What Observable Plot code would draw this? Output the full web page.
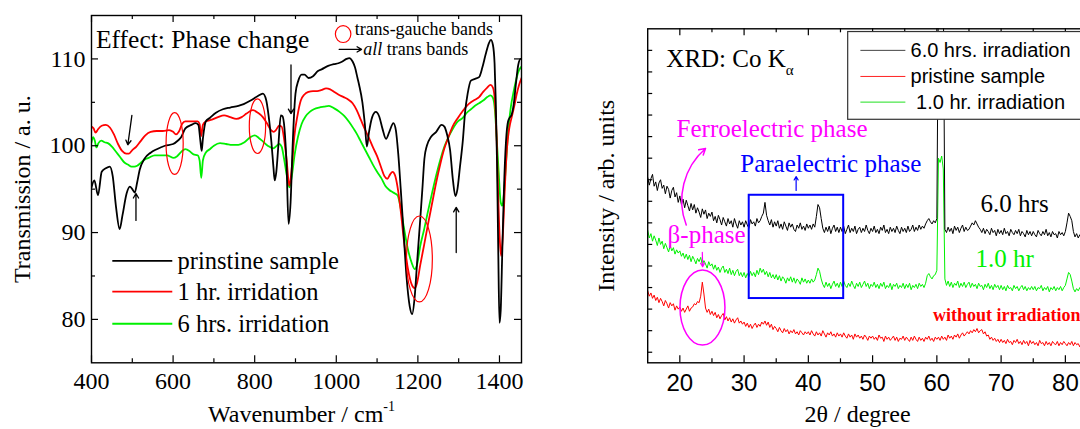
<!DOCTYPE html>
<html><head><meta charset="utf-8">
<script src="https://cdn.jsdelivr.net/npm/d3@7"></script>
<script src="https://cdn.jsdelivr.net/npm/@observablehq/plot@0.6"></script>
<style>
html,body{margin:0;padding:0;background:#fff;overflow:hidden;}
#wrap{position:relative;width:1080px;height:429px;overflow:hidden;background:#fff;}
#left{position:absolute;left:0;top:0;width:540px;height:429px;}
#right{position:absolute;left:560px;top:0;width:557px;height:429px;}
#wrap svg{max-width:none !important;}
</style></head>
<body><div id="wrap"><div id="left"></div><div id="right"></div></div>
<script>
// ---------------- FTIR data (left panel) ----------------
const blackWn = [400,407,416,425,435,445,452,460,469,476,486,494,500,506,512,518,530,545,560,580,600,612,620,630,645,655,662,667,670,673,680,690,705,722,740,760,773,790,807,820,828,834,841,846,849,853,858,864,868,873,878,883,888,893,900,907,915,922,932,943,955,964,980,994,1005,1015,1025,1032,1040,1046,1052,1056,1064,1070,1075,1080,1088,1097,1105,1113,1122,1130,1140,1146,1152,1158,1165,1172,1180,1186,1192,1198,1205,1211,1216,1222,1232,1245,1258,1265,1272,1279,1286,1292,1297,1303,1310,1316,1322,1330,1340,1350,1358,1366,1374,1379,1384,1388,1391,1394,1397,1400,1403,1407,1411,1416,1421,1426,1430,1435,1440,1446,1452,1454];
const blackT = [95.2,96.0,94.3,97.0,97.4,97.6,96.5,93.0,90.4,92.0,94.5,95.3,95.0,94.6,95.8,97.2,98.5,99.2,99.6,100.0,100.2,100.6,101.0,102.0,102.4,102.6,102.4,100.5,99.4,100.8,102.8,103.2,103.8,104.2,104.4,104.6,104.8,105.2,105.7,106.0,105.3,103.5,100.4,97.5,96.0,97.0,100.0,103.5,103.4,102.0,98.0,91.0,93.5,100.0,106.0,107.5,108.2,108.2,107.8,108.0,108.6,108.8,109.2,109.4,109.5,109.7,110.0,110.1,109.7,109.0,107.8,107.0,105.0,102.5,99.9,101.5,103.3,103.9,103.4,102.0,100.8,101.6,102.6,101.8,99.0,95.0,90.0,85.0,81.5,80.6,82.5,86.5,91.0,95.0,98.5,100.0,101.0,101.6,102.4,102.2,101.2,99.5,96.0,94.2,95.0,97.5,100.5,104.0,106.0,107.5,107.7,107.9,109.0,110.5,111.8,112.2,111.6,109.5,105.0,98.0,88.0,79.6,81.0,88.0,95.0,100.5,102.8,103.3,103.6,104.8,107.0,109.3,110.0,110.0];

const redWn = [400,405,410,416,425,435,445,455,465,475,485,492,500,510,520,532,545,560,575,590,600,607,614,622,630,645,660,665,669,673,680,695,710,725,740,755,768,780,795,808,820,830,840,847,852,860,866,872,878,885,891,897,905,913,922,932,943,953,963,975,985,995,1005,1018,1030,1040,1050,1060,1070,1080,1090,1100,1110,1118,1125,1132,1138,1144,1150,1158,1166,1175,1185,1192,1198,1206,1215,1225,1235,1245,1255,1265,1275,1285,1298,1310,1320,1330,1340,1350,1360,1370,1378,1384,1389,1393,1397,1401,1404,1408,1413,1418,1424,1430,1436,1442,1448,1454];
const redT = [102.2,102.0,101.5,101.9,102.3,102.4,102.1,101.3,100.2,99.4,99.1,99.1,99.5,99.9,100.5,101.2,101.6,101.7,101.7,101.8,101.6,101.3,101.6,102.5,102.8,102.8,102.8,102.5,101.1,102.4,102.8,103.0,103.3,103.5,103.3,103.1,103.3,103.7,104.1,103.8,103.3,102.6,101.8,101.6,101.8,102.3,102.2,100.8,98.5,95.4,97.5,101.0,103.5,105.2,105.9,106.2,106.3,106.3,106.4,106.6,106.5,106.2,105.9,105.6,105.3,104.9,104.1,103.0,101.9,100.9,99.8,98.8,97.5,96.5,96.2,96.7,97.0,96.6,95.3,92.5,89.0,86.0,84.0,83.6,84.2,86.3,88.5,91.0,93.4,95.8,97.9,99.7,101.0,102.2,103.2,104.0,104.6,105.0,105.3,105.6,106.2,106.7,107.0,106.7,105.0,101.0,94.0,89.0,87.3,89.5,95.0,99.5,102.0,103.3,104.5,105.9,107.0,107.8];

const greenWn = [400,404,408,412,417,424,432,440,450,460,470,480,490,498,505,512,520,530,540,555,570,585,600,610,620,630,640,650,660,665,669,673,680,690,700,715,730,745,760,775,790,800,810,820,832,845,852,860,866,872,879,885,891,898,906,915,925,935,945,958,970,982,995,1008,1020,1032,1042,1050,1060,1070,1080,1090,1100,1110,1120,1130,1140,1150,1158,1166,1175,1185,1192,1198,1206,1215,1225,1235,1245,1255,1265,1275,1285,1298,1310,1320,1330,1340,1350,1360,1370,1378,1384,1389,1393,1398,1403,1407,1411,1416,1422,1428,1435,1442,1448,1454];
const greenT = [100.4,101.0,100.6,99.8,100.3,100.6,100.4,100.3,99.9,99.3,98.7,98.1,97.8,97.6,97.6,97.7,98.0,98.4,98.6,98.9,98.9,98.9,98.6,98.8,99.3,99.6,99.4,99.0,98.9,98.3,96.3,98.3,99.2,99.6,100.0,100.3,100.2,100.1,100.1,100.4,101.0,101.2,100.9,100.5,100.0,99.7,99.9,100.2,99.9,98.5,96.5,95.2,96.5,99.0,101.0,102.5,103.4,103.9,104.2,104.4,104.5,104.6,104.3,103.9,103.4,102.7,102.0,101.4,100.5,99.6,98.7,97.8,97.0,96.3,95.4,94.9,94.6,94.3,92.8,90.5,88.2,86.5,85.8,86.3,88.5,90.3,92.5,94.6,96.6,98.4,99.9,101.0,101.9,102.8,103.2,103.8,104.2,104.6,104.9,105.2,105.6,105.8,105.5,104.0,101.0,97.0,93.5,93.1,94.5,98.0,102.0,104.5,106.3,107.8,108.7,109.1];

const ftXMajor = [400,600,800,1000,1200,1400];
const ftXMinor = [500,700,900,1100,1300];
const ftYMajor = [80,90,100,110];
const ftYMinor = [85,95,105];
const ftLegend = ["prinstine sample","1 hr. irridation","6 hrs. irridation"];

// ---------------- XRD data (right panel), 0.25 degree steps from 15 to 83 ----------------
const xrdAngle = d3.range(15, 83.001, 0.25);
const xrd6h = [
 8.1,7.75,8.05,8.25,7.7,7.9,7.5,7.85,8.0,7.6,7.75,7.35,7.7,7.55,7.15,7.5,7.65,7.2,7.4,6.95,
 7.25,6.85,7.1,6.7,7.05,6.8,6.55,6.9,6.6,6.85,6.45,6.7,6.5,6.25,6.65,6.4,6.6,6.2,6.45,6.3,
 6.5,6.1,6.3,6.0,6.35,6.15,5.9,6.25,6.05,5.85,6.2,5.95,6.1,5.8,6.2,5.95,5.75,6.1,5.9,6.05,
 5.8,6.1,5.9,5.75,6.15,5.95,6.05,5.85,6.2,6.0,6.1,6.3,6.45,6.95,6.35,6.1,5.9,6.15,5.8,6.05,
 5.85,6.1,5.75,5.95,5.7,6.05,5.85,5.65,6.0,5.8,5.95,5.7,5.6,5.9,5.75,6.0,5.7,5.85,5.65,5.95,
 5.75,5.9,5.7,5.95,5.8,6.3,6.85,6.7,6.2,5.75,5.55,5.8,5.6,5.85,5.5,5.75,5.9,5.6,5.8,5.55,
 5.8,5.6,5.85,5.5,5.7,5.9,5.55,5.75,5.6,5.85,5.5,5.7,5.8,5.55,5.75,5.6,5.9,5.65,5.5,5.75,
 5.6,5.85,5.55,5.7,5.5,5.8,5.65,5.9,5.55,5.7,5.5,5.8,5.6,5.75,5.55,5.85,5.65,5.5,5.8,5.6,
 5.75,5.55,5.85,5.6,5.7,5.9,5.6,5.8,5.65,5.9,5.7,5.85,5.75,5.95,6.1,6.2,6.05,5.95,6.1,6.0,
 6.2,17,17,17,17,5.7,5.55,5.8,5.6,5.75,5.5,5.85,5.65,5.8,5.55,5.75,5.9,5.6,5.8,5.65,
 5.7,5.85,6.0,5.9,6.1,5.95,5.8,5.7,5.55,5.75,5.5,5.7,5.6,5.45,5.75,5.55,5.65,5.4,5.7,5.5,
 5.65,5.45,5.75,5.5,5.6,5.4,5.7,5.55,5.45,5.65,5.5,5.7,5.4,5.6,5.5,5.35,5.65,5.45,5.6,5.4,
 5.6,5.45,5.35,5.65,5.5,5.4,5.6,5.45,5.7,5.4,5.55,5.35,5.6,5.45,5.5,5.3,5.6,5.45,5.55,5.4,
 5.6,6.0,6.45,6.3,6.1,5.6,5.35,5.5,5.3,5.45,5.25,5.4,5.3];
const xrd1h = [
 5.65,5.3,5.5,5.15,5.4,5.2,4.95,5.3,5.0,5.15,4.8,5.05,4.85,4.65,4.95,4.7,4.85,4.55,4.75,4.6,
 4.7,4.45,4.6,4.35,4.55,4.3,4.5,4.2,4.45,4.3,4.1,4.35,4.2,4.4,4.05,4.25,4.1,3.9,4.2,4.0,
 4.1,3.85,4.05,3.8,3.95,3.7,3.9,4.0,3.7,3.85,3.65,3.9,3.6,3.8,3.55,3.75,3.85,3.55,3.7,3.5,
 3.7,3.45,3.65,3.5,3.75,3.55,3.7,3.5,3.8,3.6,3.9,3.7,3.85,3.6,3.75,3.5,3.7,3.45,3.6,3.4,
 3.6,3.35,3.55,3.3,3.5,3.4,3.2,3.45,3.3,3.5,3.25,3.45,3.2,3.4,3.3,3.15,3.45,3.25,3.4,3.2,
 3.35,3.2,3.4,3.25,3.35,3.6,3.9,3.75,3.4,3.15,3.0,3.25,3.05,3.2,2.95,3.15,3.3,3.05,3.2,3.0,
 3.25,3.05,3.3,3.1,3.0,3.2,3.05,3.3,3.1,2.95,3.2,3.05,3.25,3.0,3.15,3.3,3.05,3.2,2.95,3.15,
 3.05,3.25,3.0,3.15,2.95,3.2,3.05,3.25,2.95,3.1,3.0,3.2,2.9,3.15,3.05,3.2,2.95,3.1,3.0,3.2,
 2.95,3.15,3.0,3.2,2.9,3.1,3.0,3.15,2.95,3.2,3.05,3.15,3.0,3.2,3.55,3.65,3.5,3.4,3.55,3.6,
 3.8,9.0,8.8,9.1,8.5,3.4,3.1,3.3,3.05,3.25,3.0,3.2,3.1,3.3,3.0,3.2,3.05,3.25,3.0,3.15,
 3.25,3.0,3.2,3.05,3.15,2.95,3.2,3.05,3.1,2.9,3.15,3.0,3.2,2.95,3.1,2.9,3.15,3.0,3.1,2.9,
 3.1,2.9,3.05,2.85,3.1,2.95,3.0,2.85,3.1,2.95,3.05,2.85,3.0,3.1,2.9,3.05,2.85,3.0,2.9,3.05,
 2.9,3.05,2.85,3.0,2.95,3.1,2.85,3.0,2.9,3.05,2.8,3.0,2.9,3.05,2.85,3.0,2.9,3.05,2.85,3.0,
 3.1,3.4,3.7,3.6,3.3,2.95,2.8,2.95,2.85,3.0,2.8,2.95,2.85];
const xrdPristine = [
 2.85,2.6,2.75,2.5,2.65,2.4,2.55,2.3,2.5,2.35,2.15,2.4,2.25,2.05,2.3,2.15,2.25,1.95,2.15,2.0,
 2.1,1.9,2.05,1.85,2.0,2.15,1.9,2.05,2.1,2.25,2.2,2.35,2.3,2.6,3.25,2.7,2.05,1.85,2.0,1.75,
 1.9,1.7,1.85,1.6,1.75,1.55,1.7,1.8,1.5,1.65,1.45,1.6,1.4,1.55,1.35,1.5,1.6,1.35,1.45,1.3,
 1.4,1.2,1.35,1.15,1.3,1.1,1.25,1.35,1.15,1.3,1.2,1.4,1.3,1.45,1.25,1.4,1.15,1.3,1.05,1.2,
 1.1,0.95,1.15,1.0,0.9,1.1,0.95,1.05,0.85,1.0,0.9,1.05,0.85,0.95,0.8,1.0,0.9,0.8,0.95,0.85,
 0.95,0.8,1.0,0.85,0.75,0.95,0.8,0.9,0.75,1.0,0.85,0.7,0.9,0.8,0.95,0.75,0.85,0.7,0.9,0.75,
 0.85,0.7,0.9,0.75,0.65,0.85,0.7,0.8,0.6,0.85,0.7,0.8,0.65,0.75,0.6,0.8,0.7,0.55,0.75,0.65,
 0.75,0.6,0.7,0.55,0.8,0.65,0.7,0.5,0.75,0.6,0.7,0.55,0.65,0.75,0.55,0.7,0.5,0.65,0.6,0.75,
 0.55,0.7,0.6,0.5,0.7,0.55,0.75,0.6,0.5,0.7,0.55,0.65,0.5,0.7,0.6,0.75,0.55,0.65,0.5,0.7,
 0.6,0.7,0.55,0.75,0.6,0.7,0.55,0.8,0.65,0.75,0.6,0.8,0.7,0.85,0.65,0.8,0.9,0.75,0.85,0.95,
 0.85,1.0,0.9,1.05,0.95,1.1,0.9,1.0,1.05,0.85,0.95,0.75,0.8,0.6,0.7,0.55,0.65,0.5,0.6,0.45,
 0.6,0.45,0.55,0.4,0.6,0.45,0.5,0.35,0.55,0.45,0.6,0.4,0.5,0.35,0.55,0.4,0.5,0.3,0.55,0.4,
 0.5,0.35,0.45,0.3,0.55,0.4,0.45,0.3,0.5,0.35,0.45,0.3,0.5,0.4,0.35,0.5,0.3,0.45,0.35,0.5,
 0.4,0.3,0.45,0.35,0.5,0.3,0.45,0.35,0.4,0.25,0.45,0.3,0.4];
const xrdXMajor = [20,30,40,50,60,70,80];
const xrdXMinor = [25,35,45,55,65,75,85];
const xrdYTicks = [0,1,2,3,4,5,6,7,8,9,10,11,12,13,14];
const xrdLegend = ["6.0 hrs. irradiation","pristine sample","\u00a01.0 hr. irradiation"];

// ---------------- helpers ----------------
const SERIF = "'Liberation Serif','Times New Roman',serif";
const SANS = "'Liberation Sans',Arial,sans-serif";
const GREEN = "#00f000";
const NS = "http://www.w3.org/2000/svg";
const plain = d => String(d);
function ellipseMark(list, stroke, sw) {
  return (index, scales) => {
    const g = document.createElementNS(NS, "g");
    const sx = typeof scales.x === "function" ? scales.x : null;
    const sy = typeof scales.y === "function" ? scales.y : null;
    if (!sx || !sy) return g;
    for (const e of list) {
      const cx = sx(e.cx), cy = sy(e.cy);
      const rx = Math.abs(sx(e.cx + e.rx) - cx), ry = Math.abs(sy(e.cy + e.ry) - cy);
      const el = document.createElementNS(NS, "ellipse");
      el.setAttribute("cx", cx); el.setAttribute("cy", cy);
      el.setAttribute("rx", rx); el.setAttribute("ry", ry);
      el.setAttribute("fill", "none"); el.setAttribute("stroke", stroke);
      el.setAttribute("stroke-width", sw);
      g.appendChild(el);
    }
    return g;
  };
}
const pairs = (xs, ys) => xs.map((x, i) => ({x, y: ys[i]})).filter(d => d.y != null);

// ---------------- left plot ----------------
const LW = 540, LH = 429, Lm = {l: 91, r: 19, t: 15, b: 66.7};
const LfW = LW - Lm.l - Lm.r, LfH = LH - Lm.t - Lm.b;
const left = Plot.plot({
  width: LW, height: LH,
  marginLeft: Lm.l, marginRight: Lm.r, marginTop: Lm.t, marginBottom: Lm.b,
  x: {domain: [400, 1454], axis: null},
  y: {domain: [75, 115], axis: null},
  style: {fontFamily: SERIF, fontSize: "24px", background: "white", color: "black", overflow: "visible"},
  marks: [
    Plot.line(pairs(greenWn, greenT), {x: "x", y: "y", stroke: GREEN, strokeWidth: 1.8, curve: "monotone-x", clip: true}),
    Plot.line(pairs(redWn, redT), {x: "x", y: "y", stroke: "#ff0000", strokeWidth: 1.8, curve: "monotone-x", clip: true}),
    Plot.line(pairs(blackWn, blackT), {x: "x", y: "y", stroke: "#000", strokeWidth: 1.8, curve: "monotone-x", clip: true}),
    Plot.frame({stroke: "#000", strokeWidth: 1.4}),
    Plot.tickX(ftXMajor, {insetTop: LfH - 7, strokeWidth: 1.2}),
    Plot.tickX(ftXMajor, {insetBottom: LfH - 7, strokeWidth: 1.2}),
    Plot.tickX(ftXMinor, {insetTop: LfH - 4, strokeWidth: 1.2}),
    Plot.tickX(ftXMinor, {insetBottom: LfH - 4, strokeWidth: 1.2}),
    Plot.tickY(ftYMajor, {insetRight: LfW - 7, strokeWidth: 1.2}),
    Plot.tickY(ftYMajor, {insetLeft: LfW - 7, strokeWidth: 1.2}),
    Plot.tickY(ftYMinor, {insetRight: LfW - 4, strokeWidth: 1.2}),
    Plot.tickY(ftYMinor, {insetLeft: LfW - 4, strokeWidth: 1.2}),
    Plot.axisX({ticks: ftXMajor, tickFormat: plain, tickSize: 0, tickPadding: 9, fontSize: 24, fontFamily: SERIF, label: null}),
    Plot.axisY({ticks: ftYMajor, tickFormat: plain, tickSize: 0, tickPadding: 6, fontSize: 24, fontFamily: SERIF, label: null}),
    ellipseMark([
      {cx: 605, cy: 100.2, rx: 21, ry: 3.55},
      {cx: 808, cy: 102.2, rx: 20, ry: 3.15},
      {cx: 1205, cy: 86.9, rx: 31.7, ry: 4.95},
      {cx: 1018, cy: 112.8, rx: 19, ry: 0.97}
    ], "#ff0000", 1.2),
    Plot.arrow([
      {x1: 499, y1: 103.5, x2: 489, y2: 100.1},
      {x1: 509, y1: 91.4, x2: 509, y2: 94.5},
      {x1: 889, y1: 109.3, x2: 889, y2: 103.7},
      {x1: 1294, y1: 87.7, x2: 1294, y2: 92.9},
      {x1: 1007, y1: 111.1, x2: 1062, y2: 111.1}
    ], {x1: "x1", y1: "y1", x2: "x2", y2: "y2", stroke: "#000", strokeWidth: 1.3, headLength: 6}),
    Plot.link(ftLegend, {x1: () => 451, x2: () => 598, y1: (d, i) => [86.75, 83.19, 79.5][i], y2: (d, i) => [86.75, 83.19, 79.5][i],
      stroke: (d, i) => ["#000", "#ff0000", GREEN][i], strokeWidth: 1.8}),
    Plot.text(ftLegend, {x: () => 611, y: (d, i) => [86.75, 83.19, 79.5][i], text: d => d, textAnchor: "start", lineAnchor: "middle", fontSize: 24.5, fill: "#000"}),
    Plot.text(["Effect: Phase change"], {x: () => 411, y: () => 111.3, textAnchor: "start", lineAnchor: "bottom", fontSize: 25.5}),
    Plot.text(["trans-gauche bands"], {x: () => 1045, y: () => 112.7, textAnchor: "start", lineAnchor: "bottom", fontSize: 18}),
    Plot.text(["all trans bands"], {x: () => 1066, y: () => 110.5, textAnchor: "start", lineAnchor: "bottom", fontSize: 18}),
    Plot.text(["Transmission / a. u."], {frameAnchor: "left", dx: -69, rotate: -90, textAnchor: "middle", lineAnchor: "middle", fontSize: 24}),
    Plot.text(["Wavenumber / cm"], {frameAnchor: "bottom", dx: -5, dy: 58.7, textAnchor: "middle", lineAnchor: "bottom", fontSize: 24})
  ]
});
document.getElementById("left").appendChild(left);

// ---------------- right plot ----------------
const RW = 557, RH = 429, Rm = {l: 87.2, r: 20, t: 28.3, b: 66.7};
const RfW = RW - Rm.l - Rm.r, RfH = RH - Rm.t - Rm.b;
const xrdRows = [14.0, 12.79, 11.6];
const right = Plot.plot({
  width: RW, height: RH,
  marginLeft: Rm.l, marginRight: Rm.r, marginTop: Rm.t, marginBottom: Rm.b,
  x: {domain: [15, 85], axis: null},
  y: {domain: [-0.49, 15], axis: null},
  style: {fontFamily: SERIF, fontSize: "24px", background: "white", color: "black", overflow: "visible"},
  marks: [
    Plot.line(pairs(xrdAngle, xrdPristine), {x: "x", y: "y", stroke: "#ff0000", strokeWidth: 1, clip: true}),
    Plot.line(pairs(xrdAngle, xrd1h), {x: "x", y: "y", stroke: GREEN, strokeWidth: 1, clip: true}),
    Plot.line(pairs(xrdAngle, xrd6h), {x: "x", y: "y", stroke: "#000", strokeWidth: 1, clip: true}),
    Plot.frame({stroke: "#000", strokeWidth: 1.4}),
    Plot.tickX(xrdXMajor, {insetTop: RfH - 7, strokeWidth: 1.2}),
    Plot.tickX(xrdXMajor, {insetBottom: RfH - 7, strokeWidth: 1.2}),
    Plot.tickX(xrdXMinor, {insetTop: RfH - 4, strokeWidth: 1.2}),
    Plot.tickX(xrdXMinor, {insetBottom: RfH - 4, strokeWidth: 1.2}),
    Plot.tickY(xrdYTicks, {insetRight: RfW - 5, strokeWidth: 1.2}),
    Plot.axisX({ticks: xrdXMajor, tickFormat: plain, tickSize: 0, tickPadding: 11, fontSize: 24, fontFamily: SANS, label: null}),
    Plot.rect([{x1: 46.2, x2: 86, y1: 10.78, y2: 14.85}], {x1: "x1", x2: "x2", y1: "y1", y2: "y2", fill: "white", stroke: "#333", strokeWidth: 1.2}),
    Plot.link(xrdLegend, {x1: () => 48.1, x2: () => 55.1, y1: (d, i) => xrdRows[i], y2: (d, i) => xrdRows[i],
      stroke: (d, i) => ["#444", "#ff2020", "#20e020"][i], strokeWidth: 1}),
    Plot.text(xrdLegend, {x: () => 55.9, y: (d, i) => xrdRows[i], text: d => d, textAnchor: "start", lineAnchor: "middle", fontSize: 20, fontFamily: SANS}),
    Plot.rect([{x1: 30.8, x2: 45.5, y1: 2.49, y2: 7.28}], {x1: "x1", x2: "x2", y1: "y1", y2: "y2", fill: "none", stroke: "#0000ff", strokeWidth: 2}),
    ellipseMark([{cx: 23.6, cy: 2.05, rx: 3.5, ry: 1.74}], "#ff00ff", 1.5),
    Plot.arrow([{x1: 38.1, y1: 7.5, x2: 38.1, y2: 8.15}], {x1: "x1", y1: "y1", x2: "x2", y2: "y2", stroke: "#0000ff", strokeWidth: 1.2, headLength: 5}),
    Plot.arrow([{x1: 23.5, y1: 4.63, x2: 23.55, y2: 3.97}], {x1: "x1", y1: "y1", x2: "x2", y2: "y2", stroke: "#ff00ff", strokeWidth: 1.2, headLength: 5}),
    Plot.arrow([{x1: 21.0, y1: 5.9, x2: 24.0, y2: 9.45}], {x1: "x1", y1: "y1", x2: "x2", y2: "y2", stroke: "#ff00ff", strokeWidth: 1.5, headLength: 7, bend: 35}),
    Plot.text(["XRD: Co K"], {x: () => 17.9, y: () => 13.21, textAnchor: "start", lineAnchor: "bottom", fontSize: 25}),
    Plot.text(["Ferroelectric phase"], {x: () => 19.5, y: () => 9.98, textAnchor: "start", lineAnchor: "bottom", fontSize: 25, fill: "#ff00ff"}),
    Plot.text(["Paraelectric phase"], {x: () => 29.4, y: () => 8.35, textAnchor: "start", lineAnchor: "bottom", fontSize: 25, fill: "#0000ff"}),
    Plot.text(["6.0 hrs"], {x: () => 66.8, y: () => 6.5, textAnchor: "start", lineAnchor: "bottom", fontSize: 25, fill: "#000"}),
    Plot.text(["1.0 hr"], {x: () => 66.0, y: () => 3.94, textAnchor: "start", lineAnchor: "bottom", fontSize: 25, fill: GREEN}),
    Plot.text(["without irradiation"], {x: () => 59.4, y: () => 1.47, textAnchor: "start", lineAnchor: "bottom", fontSize: 18, fontWeight: "bold", fill: "#ff0000"}),
    Plot.text(["\u03b2-phase"], {x: () => 18.1, y: () => 5.06, textAnchor: "start", lineAnchor: "bottom", fontSize: 25, fill: "#ff00ff"}),
    Plot.text(["Intensity / arb. units"], {frameAnchor: "left", dx: -41, rotate: -90, textAnchor: "middle", lineAnchor: "middle", fontSize: 24}),
    Plot.text(["2\u03b8 / degree"], {frameAnchor: "bottom", dx: -15, dy: 58.7, textAnchor: "middle", lineAnchor: "bottom", fontSize: 24})
  ]
});
document.getElementById("right").appendChild(right);

// ---------------- rich-text touches (sub/superscripts, italics) ----------------
function findText(svg, s) {
  return Array.from(svg.querySelectorAll("text")).find(t => t.textContent === s);
}
(function () {
  const wn = findText(left, "Wavenumber / cm");
  if (wn) {
    const sup = document.createElementNS(NS, "tspan");
    sup.setAttribute("font-size", "14"); sup.setAttribute("dy", "-11");
    sup.textContent = "-1"; wn.appendChild(sup);
  }
  const at = findText(left, "all trans bands");
  if (at) {
    at.textContent = "";
    const a = document.createElementNS(NS, "tspan");
    a.setAttribute("font-style", "italic"); a.textContent = "all";
    const b = document.createElementNS(NS, "tspan");
    b.textContent = " trans bands";
    at.appendChild(a); at.appendChild(b);
  }
  const xrd = findText(right, "XRD: Co K");
  if (xrd) {
    const sub = document.createElementNS(NS, "tspan");
    sub.setAttribute("font-size", "15"); sub.setAttribute("dy", "8");
    sub.textContent = "\u03b1"; xrd.appendChild(sub);
  }
})();
</script>
</body></html>
